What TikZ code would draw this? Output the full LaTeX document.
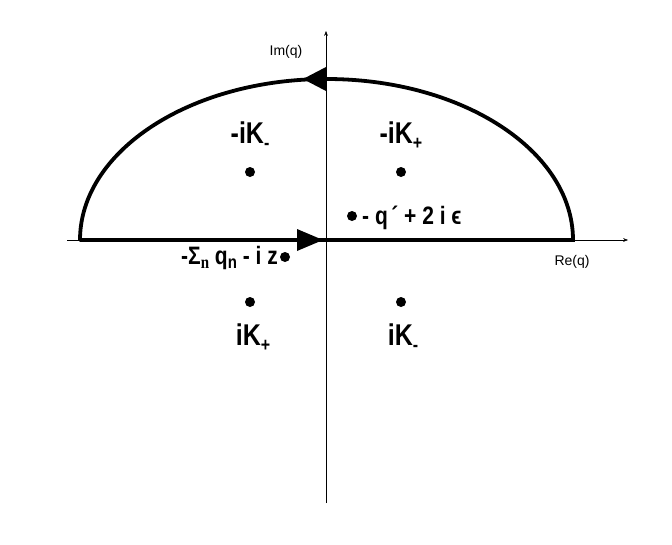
\documentclass[tikz,border=0pt]{standalone}
\usepackage{fontspec}
\setmainfont{Liberation Sans}
\usetikzlibrary{arrows.meta,decorations.markings}

\newcommand{\lowsub}[1]{\raisebox{-5pt}{\fontsize{16}{18}\selectfont #1}}
\newcommand{\tall}[1]{\scalebox{1}[1.2]{#1}}

\tikzset{
  pole/.style={circle, fill=black, inner sep=0pt, minimum width=8pt, minimum height=10pt},
  polelabel/.style={font=\fontsize{25}{28}\selectfont\bfseries, inner sep=1pt, anchor=base},
  axislabel/.style={font=\fontsize{14}{16}\selectfont, inner sep=1pt},
  contour/.style={line width=3.8pt, line cap=round}
}

\begin{document}
\begin{tikzpicture}[x=1pt, y=-1pt, >=Stealth]
\useasboundingbox (0,0) rectangle (672,544);

% Axes
\coordinate (re0) at (67,240);
\coordinate (re1) at (628,240);
\coordinate (im0) at (326,503);
\coordinate (im1) at (326,31);
\draw[->, thin] (re0) -- (re1);
\draw[->, thin] (im0) -- (im1);
\node[axislabel] (imlab) at (286,52) {Im(q)};
\node[axislabel] (relab) at (572,262) {Re(q)};

% Contour: real line and upper arc
\draw[contour] (80,240) -- (573,240) arc[start angle=0, end angle=180, x radius=246.5pt, y radius=161pt];
% Arrow heads on the contour
\fill (323,240) -- (297,229) -- (297,251) -- cycle;
\fill (303,79) -- (326,67) -- (326,91) -- cycle;

% Poles
\node[pole] (pA) at (250,172) {};
\node[pole] (pB) at (401,172) {};
\node[pole] (pC) at (352,216) {};
\node[pole] (pD) at (285,257) {};
\node[pole] (pE) at (250,302) {};
\node[pole] (pF) at (401,302) {};

% Labels
\node[polelabel] (lA) at (250,143) {\tall{-iK\lowsub{-}}};
\node[polelabel] (lB) at (401,143) {\tall{-iK\lowsub{+}}};
\node[polelabel, anchor=base west] (lC) at (361,224) {\tall{\fontsize{21}{24}\selectfont - q\,´ + 2 i ϵ}};
\node[polelabel, anchor=base east] (lD) at (279,264) {\tall{\fontsize{21}{24}\selectfont -Σ\raisebox{-4pt}{\fontsize{15}{17}\fontspec{Liberation Serif}n} q\raisebox{-4pt}{\fontsize{15}{17}\selectfont n} - i z}};
\node[polelabel] (lE) at (253,345) {\tall{iK\lowsub{+}}};
\node[polelabel] (lF) at (403,345) {\tall{iK\lowsub{-}}};

\end{tikzpicture}
\end{document}
